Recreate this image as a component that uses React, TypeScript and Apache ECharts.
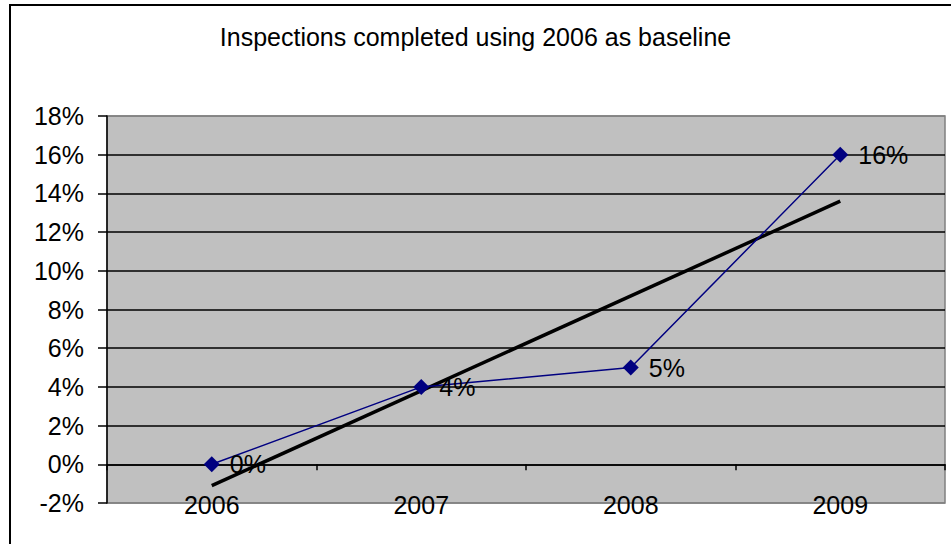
import React, { useEffect, useRef } from "react";
import * as echarts from "echarts";

const categories = ["2006", "2007", "2008", "2009"];
const inspections = [0, 4, 5, 16];
const trendline = [-1.1, null, null, 13.6];
const yTicks = { min: -2, max: 18, interval: 2 };
const titleText = "Inspections completed using 2006 as baseline";

const FONT = "'Liberation Sans', Arial, sans-serif";

export default function App() {
  const ref = useRef<HTMLDivElement>(null);
  useEffect(() => {
    if (!ref.current) return;
    const chart = echarts.init(ref.current, null, { renderer: "svg" });
    const splitColors = [
      "#808080",
      "#000",
      "#000",
      "#000",
      "#000",
      "#000",
      "#000",
      "#000",
      "#000",
      "#000",
      "#808080",
    ];
    chart.setOption({
      animation: false,
      backgroundColor: "#fff",
      textStyle: { fontFamily: FONT },
      title: {
        text: titleText,
        left: "center",
        top: 19,
        textStyle: { fontFamily: FONT, fontSize: 25, fontWeight: "normal", color: "#000" },
      },
      graphic: [
        {
          type: "rect",
          shape: { x: 10, y: 5, width: 1200, height: 1200 },
          style: { fill: "none", stroke: "#000", lineWidth: 2 },
          silent: true,
        },
      ],
      grid: {
        left: 107,
        right: 6,
        top: 116,
        bottom: 41,
        show: true,
        backgroundColor: "#C0C0C0",
        borderColor: "#808080",
        borderWidth: 1.5,
        containLabel: false,
        outerBoundsMode: "none",
      },
      xAxis: {
        type: "category",
        data: categories,
        boundaryGap: true,
        axisLine: { show: true, onZero: true, lineStyle: { color: "#000", width: 1.5 } },
        axisTick: { show: true, inside: false, length: 6, lineStyle: { color: "#000", width: 1.5 } },
        axisLabel: { color: "#000", fontSize: 25, fontFamily: FONT, margin: -11, hideOverlap: false },
        splitLine: { show: false },
      },
      yAxis: {
        type: "value",
        min: yTicks.min,
        max: yTicks.max,
        interval: yTicks.interval,
        axisLine: { show: true, lineStyle: { color: "#000", width: 1.5 } },
        axisTick: { show: true, length: 9, lineStyle: { color: "#000", width: 1.5 } },
        axisLabel: {
          color: "#000",
          fontSize: 25,
          fontFamily: FONT,
          margin: 23,
          formatter: "{value}%",
        },
        splitLine: { show: true, lineStyle: { color: splitColors, width: 1.5 } },
      },
      series: [
        {
          name: "Inspections",
          type: "line",
          data: inspections,
          symbol: "diamond",
          symbolSize: 16,
          itemStyle: { color: "#000080" },
          lineStyle: { color: "#000080", width: 1.5 },
          label: {
            show: true,
            position: "right",
            distance: 10,
            formatter: "{c}%",
            color: "#000",
            fontSize: 25,
            fontFamily: FONT,
          },
          z: 3,
        },
        {
          name: "Trend",
          type: "line",
          data: trendline,
          connectNulls: true,
          showSymbol: false,
          symbol: "none",
          lineStyle: { color: "#000", width: 3.5 },
          z: 2,
        },
      ],
    });
    return () => chart.dispose();
  }, []);
  return (
    <div
      ref={ref}
      style={{ position: "fixed", left: 0, top: 0, width: 951, height: 544 }}
    />
  );
}
